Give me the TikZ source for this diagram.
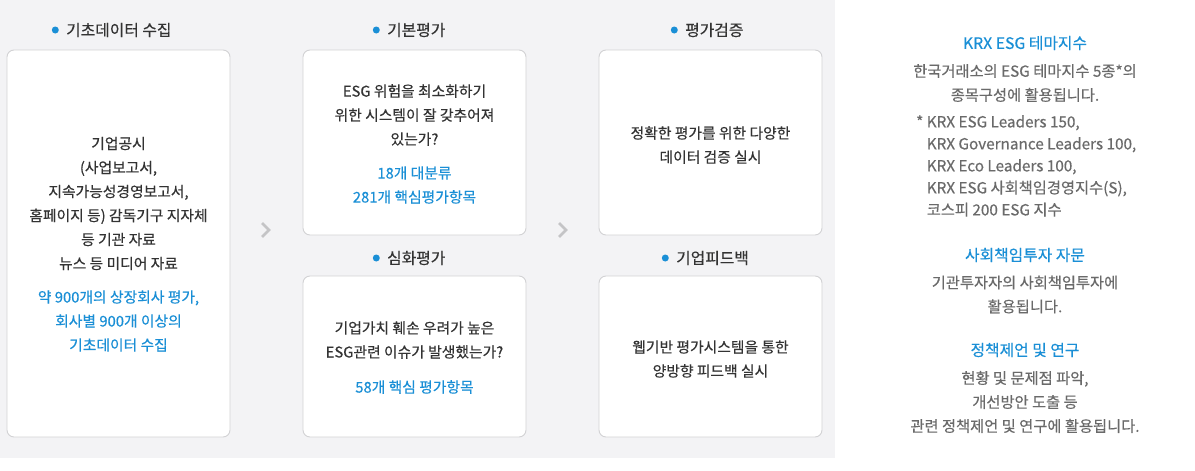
\documentclass[tikz,border=0pt]{standalone}
\usepackage{fontspec}
\setmainfont{Noto Sans CJK KR}[FakeBold=0.35]
\usetikzlibrary{positioning}
\definecolor{panelgrey}{HTML}{F3F3F5}
\definecolor{cardline}{HTML}{D2D2D4}
\definecolor{ink}{HTML}{333333}
\definecolor{esgblue}{HTML}{1A8FD6}
\definecolor{softgrey}{HTML}{6A6A6A}
\definecolor{chevgrey}{HTML}{C4C4C6}

\begin{document}
\begin{tikzpicture}[x=1pt,y=-1pt,
    card/.style={draw=cardline, fill=white, rounded corners=7pt, line width=0.9pt,
      minimum width=223pt, inner sep=0pt},
    head/.style={font=\fontsize{15.8}{18}\selectfont, text=ink, inner sep=0pt},
    dot/.style={circle, fill=esgblue, inner sep=0pt, minimum size=7pt},
    body/.style={align=center, font=\fontsize{14.8}{24}\selectfont, text=ink, inner sep=0pt},
    hi/.style={body, text=esgblue},
    side/.style={align=center, font=\fontsize{15.3}{24}\selectfont, text=softgrey, inner sep=0pt},
    sidehead/.style={font=\fontsize{15.8}{18}\selectfont, text=esgblue, inner sep=0pt},
    chev/.style={draw=chevgrey, line width=2.6pt}]
  % page and grey panel
  \useasboundingbox (0,0) rectangle (1195,471);
  \fill[white] (0,0) rectangle (1195,471);
  \fill[panelgrey] (0,0) rectangle (835,458);

  % cards
  \node[card, minimum height=387pt] (collect) at (118.5,243.5) {};
  \node[card, minimum height=185pt] (basic) at (414.5,142.5) {};
  \node[card, minimum height=161pt] (deep) at (414.5,356.5) {};
  \node[card, minimum height=185pt] (verify) at (710.5,142.5) {};
  \node[card, minimum height=161pt] (feedback) at (710.5,356.5) {};

  % headings
  \node[head, anchor=west] (hcollect) at (66,30) {기초데이터 수집};
  \node[dot, left=7pt of hcollect] (dcollect) {};
  \node[head, anchor=west] (hbasic) at (387,30) {기본평가};
  \node[dot, left=7pt of hbasic] (dbasic) {};
  \node[head, anchor=west] (hdeep) at (387,258) {심화평가};
  \node[dot, left=7pt of hdeep] (ddeep) {};
  \node[head, anchor=west] (hverify) at (685,30) {평가검증};
  \node[dot, left=7pt of hverify] (dverify) {};
  \node[head, anchor=west] (hfeed) at (676,258) {기업피드백};
  \node[dot, left=7pt of hfeed] (dfeed) {};

  % card texts
  \node[body] (tcollect) at (118.5,203.5) {기업공시\\(사업보고서,\\지속가능성경영보고서,\\홈페이지 등) 감독기구 지자체\\등 기관 자료\\뉴스 등 미디어 자료};
  \node[hi] (ncollect) at (118.5,321) {약 900개의 상장회사 평가,\\회사별 900개 이상의\\기초데이터 수집};
  \node[body] (tbasic) at (414.5,115) {ESG 위험을 최소화하기\\위한 시스템이 잘 갖추어져\\있는가?};
  \node[hi] (nbasic) at (414.5,185) {18개 대분류\\281개 핵심평가항목};
  \node[body] (tdeep) at (414.5,340) {기업가치 훼손 우려가 높은\\ESG관련 이슈가 발생했는가?};
  \node[hi] (ndeep) at (414.5,387) {58개 핵심 평가항목};
  \node[body] (tverify) at (710.5,145) {정확한 평가를 위한 다양한\\데이터 검증 실시};
  \node[body] (tfeed) at (710.5,359) {웹기반 평가시스템을 통한\\양방향 피드백 실시};

  % chevrons between the columns
  \coordinate (c1) at (266,230);
  \coordinate (c2) at (563,230);
  \draw[chev] ([shift={(-4,-7)}]c1) -- ([shift={(3,0)}]c1) -- ([shift={(-4,7)}]c1);
  \draw[chev] ([shift={(-4,-7)}]c2) -- ([shift={(3,0)}]c2) -- ([shift={(-4,7)}]c2);

  % right panel
  \node[sidehead] (krx) at (1025,43) {KRX ESG 테마지수};
  \node[side] (krxtext) at (1025,83) {한국거래소의 ESG 테마지수 5종*의\\종목구성에 활용됩니다.};
  \node[side, align=left, font=\fontsize{15.3}{22}\selectfont, anchor=north west] (krxlist) at (916,115)
    {* KRX ESG Leaders 150,\\\phantom{* }KRX Governance Leaders 100,\\\phantom{* }KRX Eco Leaders 100,\\\phantom{* }KRX ESG 사회책임경영지수(S),\\\phantom{* }코스피 200 ESG 지수};
  \node[sidehead] (sri) at (1025,255) {사회책임투자 자문};
  \node[side] (sritext) at (1025,294.5) {기관투자자의 사회책임투자에\\활용됩니다.};
  \node[sidehead] (policy) at (1025,350) {정책제언 및 연구};
  \node[side] (policytext) at (1025,402) {현황 및 문제점 파악,\\개선방안 도출 등\\관련 정책제언 및 연구에 활용됩니다.};
\end{tikzpicture}
\end{document}
